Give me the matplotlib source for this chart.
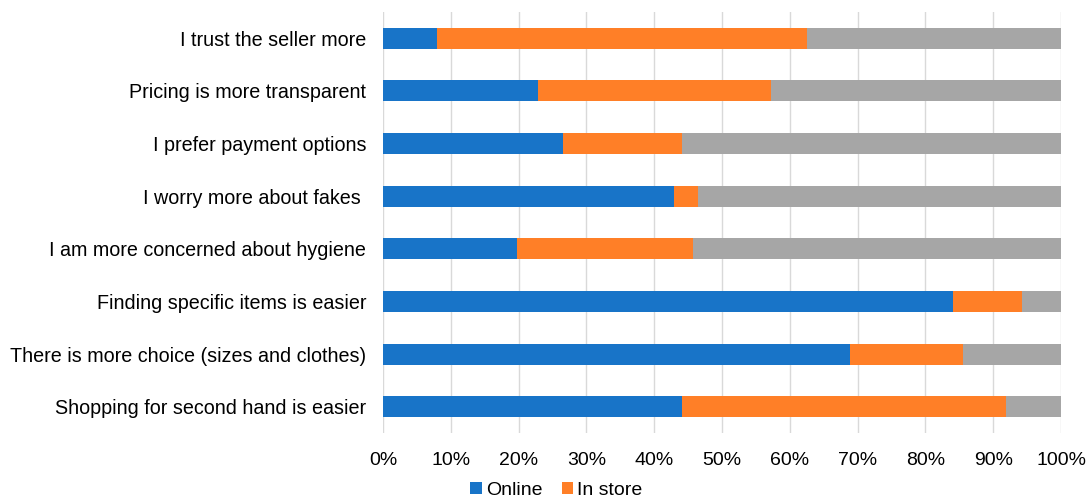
import matplotlib.pyplot as plt
import numpy as np

plt.rcParams["font.family"] = ["Liberation Sans", "DejaVu Sans"]

# -----------------------
# Data (shares in %)
# -----------------------
categories = [
    "I trust the seller more",
    "Pricing is more transparent",
    "I prefer payment options",
    "I worry more about fakes ",
    "I am more concerned about hygiene",
    "Finding specific items is easier",
    "There is more choice (sizes and clothes)",
    "Shopping for second hand is easier",
]
online = [8.0, 22.9, 26.6, 42.9, 19.8, 84.0, 68.9, 44.1]
in_store = [54.6, 34.3, 17.5, 3.5, 25.9, 10.3, 16.7, 47.8]
no_difference = [100 - a - b for a, b in zip(online, in_store)]

blue = "#1874C8"
orange = "#FF7F27"
grey = "#A6A6A6"

fig = plt.figure(figsize=(10.91, 4.97), dpi=100)
ax = fig.add_axes([383 / 1091, 1 - 433 / 497, 678 / 1091, 421 / 497])

y = np.arange(len(categories))
h = 0.4

ax.barh(y, online, height=h, color=blue, label="Online", zorder=3)
ax.barh(y, in_store, left=online, height=h, color=orange, label="In store", zorder=3)
left2 = [a + b for a, b in zip(online, in_store)]
ax.barh(y, no_difference, left=left2, height=h, color=grey, zorder=3)

ax.set_xlim(0, 100)
ax.set_ylim(len(categories) - 0.5, -0.5)
ax.set_xticks(np.arange(0, 101, 10))
ax.set_xticklabels([f"{v}%" for v in range(0, 101, 10)], fontsize=14)
ax.set_yticks(y)
ax.set_yticklabels(categories, fontsize=14.2)
ax.tick_params(axis="both", length=0)
ax.tick_params(axis="y", pad=12)
ax.tick_params(axis="x", pad=14)

ax.grid(axis="x", color="#D9D9D9", linewidth=1, zorder=0)
for s in ax.spines.values():
    s.set_visible(False)

handles, labels = ax.get_legend_handles_labels()
fig.legend(
    handles, labels,
    loc="center", bbox_to_anchor=(0.51, 0.014),
    ncol=2, frameon=False, fontsize=14,
    handlelength=0.6, handleheight=0.6, handletextpad=0.2, columnspacing=1.0,
)

fig.savefig("out.png", dpi=100)
